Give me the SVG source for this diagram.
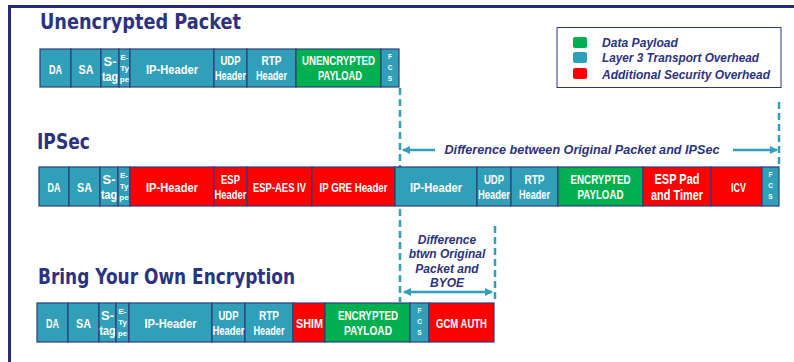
<svg xmlns="http://www.w3.org/2000/svg" width="794" height="362" viewBox="0 0 794 362">
<style>
.t{fill:#2C3380;font-family:"DejaVu Sans","Liberation Sans",sans-serif;font-weight:bold}
.b{stroke:#2C3F7A;stroke-width:1.2}
.tl{fill:#319FB7}
.gr{fill:#00B050}
.rd{fill:#FF0000}
.w{fill:#fff;font-family:"Liberation Sans",sans-serif;font-weight:bold;font-size:13.5px;text-anchor:middle}
.it{fill:#2C3380;font-family:"Liberation Sans","Arial",sans-serif;font-weight:bold;font-style:italic;font-size:12px}
.dash{stroke:#319FB7;stroke-width:2.5;stroke-dasharray:7,4;fill:none}
.arr{stroke:#319FB7;stroke-width:2.5;fill:none}
</style>
<defs>
<marker id="ah" markerWidth="8" markerHeight="8" refX="7" refY="4" orient="auto-start-reverse" markerUnits="userSpaceOnUse">
<path d="M0,0 L8,4 L0,8 Z" fill="#319FB7"/>
</marker>
</defs>
<rect width="794" height="362" fill="#fff"/>
<path d="M9.5,362 V6.5 H794" stroke="#262A78" stroke-width="3" fill="none"/>

<g id="connectors">
<line class="dash" x1="400" y1="88" x2="400" y2="302"/>
<line class="dash" x1="495" y1="226" x2="495" y2="302"/>
<line class="dash" x1="779" y1="102" x2="779" y2="168"/>
<line class="arr" x1="435" y1="150" x2="403" y2="150" marker-end="url(#ah)"/>
<line class="arr" x1="733" y1="150" x2="777" y2="150" marker-end="url(#ah)"/>
<line class="arr" x1="404" y1="292" x2="492" y2="292" marker-start="url(#ah)" marker-end="url(#ah)"/>
</g>

<g id="titles">
<text class="t" x="40" y="29" font-size="21" textLength="201" lengthAdjust="spacingAndGlyphs">Unencrypted Packet</text>
<text class="t" x="37" y="149" font-size="21" textLength="53" lengthAdjust="spacingAndGlyphs">IPSec</text>
<text class="t" x="38" y="284" font-size="21" textLength="257" lengthAdjust="spacingAndGlyphs">Bring Your Own Encryption</text>
</g>

<g id="legend">
<rect x="557" y="27.5" width="224" height="60" fill="#fff" stroke="#2C3380" stroke-width="1"/>
<rect x="573" y="37" width="14" height="11" rx="2" class="gr"/>
<rect x="573" y="52" width="14" height="11" rx="2" class="tl"/>
<rect x="573" y="68" width="14" height="11" rx="2" class="rd"/>
<text class="it" x="602" y="47" textLength="76" lengthAdjust="spacingAndGlyphs">Data Payload</text>
<text class="it" x="602" y="62" textLength="157" lengthAdjust="spacingAndGlyphs">Layer 3 Transport Overhead</text>
<text class="it" x="602" y="79" textLength="168" lengthAdjust="spacingAndGlyphs">Additional Security Overhead</text>
</g>

<g id="row-unencrypted">
<rect class="tl b" x="40" y="49" width="31" height="38"/>
<rect class="tl b" x="71" y="49" width="30" height="38"/>
<rect class="tl b" x="101" y="49" width="18" height="38"/>
<rect class="tl b" x="119" y="49" width="11" height="38"/>
<rect class="tl b" x="130" y="49" width="84" height="38"/>
<rect class="tl b" x="214" y="49" width="33" height="38"/>
<rect class="tl b" x="247" y="49" width="49" height="38"/>
<rect class="gr b" x="296" y="49" width="85" height="38"/>
<rect class="tl b" x="381" y="49" width="18" height="38"/>
<text class="w" x="55.5" y="74" textLength="13" lengthAdjust="spacingAndGlyphs">DA</text>
<text class="w" x="86" y="74" textLength="15" lengthAdjust="spacingAndGlyphs">SA</text>
<text class="w" style="font-size:13px"><tspan x="110" y="66">S-</tspan><tspan x="110" y="81" textLength="16" lengthAdjust="spacingAndGlyphs">tag</tspan></text>
<text class="w" style="font-size:8px"><tspan x="124.5" y="60">E-</tspan><tspan x="124.5" y="71">Ty</tspan><tspan x="124.5" y="82">pe</tspan></text>
<text class="w" x="172" y="74" textLength="52" lengthAdjust="spacingAndGlyphs">IP-Header</text>
<text class="w"><tspan x="230.5" y="65" textLength="20" lengthAdjust="spacingAndGlyphs">UDP</tspan><tspan x="230.5" y="80" textLength="31" lengthAdjust="spacingAndGlyphs">Header</tspan></text>
<text class="w"><tspan x="271.5" y="65" textLength="20" lengthAdjust="spacingAndGlyphs">RTP</tspan><tspan x="271.5" y="80" textLength="31" lengthAdjust="spacingAndGlyphs">Header</tspan></text>
<text class="w"><tspan x="338.5" y="65" textLength="73" lengthAdjust="spacingAndGlyphs">UNENCRYPTED</tspan><tspan x="340" y="80" textLength="44" lengthAdjust="spacingAndGlyphs">PAYLOAD</tspan></text>
<text class="w" style="font-size:6.5px"><tspan x="390" y="59">F</tspan><tspan x="390" y="70">C</tspan><tspan x="390" y="81">S</tspan></text>
</g>

<g id="row-ipsec">
<rect class="tl b" x="39" y="167" width="30" height="39"/>
<rect class="tl b" x="69" y="167" width="31" height="39"/>
<rect class="tl b" x="100" y="167" width="18" height="39"/>
<rect class="tl b" x="118" y="167" width="12" height="39"/>
<rect class="rd b" x="130" y="167" width="84" height="39"/>
<rect class="rd b" x="214" y="167" width="33" height="39"/>
<rect class="rd b" x="247" y="167" width="65" height="39"/>
<rect class="rd b" x="312" y="167" width="83" height="39"/>
<rect class="tl b" x="395" y="167" width="82" height="39"/>
<rect class="tl b" x="477" y="167" width="34" height="39"/>
<rect class="tl b" x="511" y="167" width="47" height="39"/>
<rect class="gr b" x="558" y="167" width="85" height="39"/>
<rect class="rd b" x="643" y="167" width="68" height="39"/>
<rect class="rd b" x="711" y="167" width="51" height="39"/>
<rect class="tl b" x="762" y="167" width="17" height="39"/>
<text class="w" x="54" y="192" textLength="13" lengthAdjust="spacingAndGlyphs">DA</text>
<text class="w" x="84.5" y="192" textLength="15" lengthAdjust="spacingAndGlyphs">SA</text>
<text class="w" style="font-size:13px"><tspan x="109" y="184">S-</tspan><tspan x="109" y="199" textLength="16" lengthAdjust="spacingAndGlyphs">tag</tspan></text>
<text class="w" style="font-size:8px"><tspan x="124" y="178">E-</tspan><tspan x="124" y="189">Ty</tspan><tspan x="124" y="200">pe</tspan></text>
<text class="w" x="172" y="192" textLength="52" lengthAdjust="spacingAndGlyphs">IP-Header</text>
<text class="w"><tspan x="230.5" y="184" textLength="19" lengthAdjust="spacingAndGlyphs">ESP</tspan><tspan x="230.5" y="199" textLength="32" lengthAdjust="spacingAndGlyphs">Header</tspan></text>
<text class="w" x="279.5" y="192" textLength="53" lengthAdjust="spacingAndGlyphs">ESP-AES IV</text>
<text class="w" x="353.5" y="192" textLength="68" lengthAdjust="spacingAndGlyphs">IP GRE Header</text>
<text class="w" x="436" y="192" textLength="52" lengthAdjust="spacingAndGlyphs">IP-Header</text>
<text class="w"><tspan x="494" y="184" textLength="20" lengthAdjust="spacingAndGlyphs">UDP</tspan><tspan x="494" y="199" textLength="32" lengthAdjust="spacingAndGlyphs">Header</tspan></text>
<text class="w"><tspan x="534.5" y="184" textLength="20" lengthAdjust="spacingAndGlyphs">RTP</tspan><tspan x="534.5" y="199" textLength="31" lengthAdjust="spacingAndGlyphs">Header</tspan></text>
<text class="w"><tspan x="600.5" y="184" textLength="60" lengthAdjust="spacingAndGlyphs">ENCRYPTED</tspan><tspan x="600.5" y="199" textLength="46" lengthAdjust="spacingAndGlyphs">PAYLOAD</tspan></text>
<text class="w" style="font-size:15px"><tspan x="677" y="184" textLength="45" lengthAdjust="spacingAndGlyphs">ESP Pad</tspan><tspan x="677" y="200" textLength="52" lengthAdjust="spacingAndGlyphs">and Timer</tspan></text>
<text class="w" x="738.5" y="192" textLength="15" lengthAdjust="spacingAndGlyphs">ICV</text>
<text class="w" style="font-size:6.5px"><tspan x="770.5" y="177">F</tspan><tspan x="770.5" y="188">C</tspan><tspan x="770.5" y="199">S</tspan></text>
</g>

<g id="label-ipsec">
<text class="it" x="582" y="154" text-anchor="middle" textLength="275" lengthAdjust="spacingAndGlyphs">Difference between Original Packet and IPSec</text>
</g>

<g id="label-byoe">
<text class="it" text-anchor="middle"><tspan x="447" y="244">Difference</tspan><tspan x="447" y="258">btwn Original</tspan><tspan x="447" y="273">Packet and</tspan><tspan x="447" y="287">BYOE</tspan></text>
</g>

<g id="row-byoe">
<rect class="tl b" x="37" y="303" width="31" height="39"/>
<rect class="tl b" x="68" y="303" width="31" height="39"/>
<rect class="tl b" x="99" y="303" width="17" height="39"/>
<rect class="tl b" x="116" y="303" width="13" height="39"/>
<rect class="tl b" x="129" y="303" width="83" height="39"/>
<rect class="tl b" x="212" y="303" width="33" height="39"/>
<rect class="tl b" x="245" y="303" width="48" height="39"/>
<rect class="rd b" x="293" y="303" width="32" height="39"/>
<rect class="gr b" x="325" y="303" width="85" height="39"/>
<rect class="tl b" x="410" y="303" width="19" height="39"/>
<rect class="rd b" x="429" y="303" width="65" height="39"/>
<text class="w" x="52.5" y="328" textLength="13" lengthAdjust="spacingAndGlyphs">DA</text>
<text class="w" x="83.5" y="328" textLength="15" lengthAdjust="spacingAndGlyphs">SA</text>
<text class="w" style="font-size:13px"><tspan x="107.5" y="320">S-</tspan><tspan x="107.5" y="335" textLength="16" lengthAdjust="spacingAndGlyphs">tag</tspan></text>
<text class="w" style="font-size:8px"><tspan x="122.5" y="314">E-</tspan><tspan x="122.5" y="325">Ty</tspan><tspan x="122.5" y="336">pe</tspan></text>
<text class="w" x="170.5" y="328" textLength="52" lengthAdjust="spacingAndGlyphs">IP-Header</text>
<text class="w"><tspan x="228.5" y="320" textLength="20" lengthAdjust="spacingAndGlyphs">UDP</tspan><tspan x="228.5" y="335" textLength="32" lengthAdjust="spacingAndGlyphs">Header</tspan></text>
<text class="w"><tspan x="269" y="320" textLength="20" lengthAdjust="spacingAndGlyphs">RTP</tspan><tspan x="269" y="335" textLength="31" lengthAdjust="spacingAndGlyphs">Header</tspan></text>
<text class="w" x="309.5" y="328" textLength="27" lengthAdjust="spacingAndGlyphs">SHIM</text>
<text class="w"><tspan x="368" y="320" textLength="60" lengthAdjust="spacingAndGlyphs">ENCRYPTED</tspan><tspan x="368" y="335" textLength="48" lengthAdjust="spacingAndGlyphs">PAYLOAD</tspan></text>
<text class="w" style="font-size:6.5px"><tspan x="419.5" y="313">F</tspan><tspan x="419.5" y="324">C</tspan><tspan x="419.5" y="335">S</tspan></text>
<text class="w" x="461.5" y="328" textLength="51" lengthAdjust="spacingAndGlyphs">GCM AUTH</text>
</g>
</svg>
